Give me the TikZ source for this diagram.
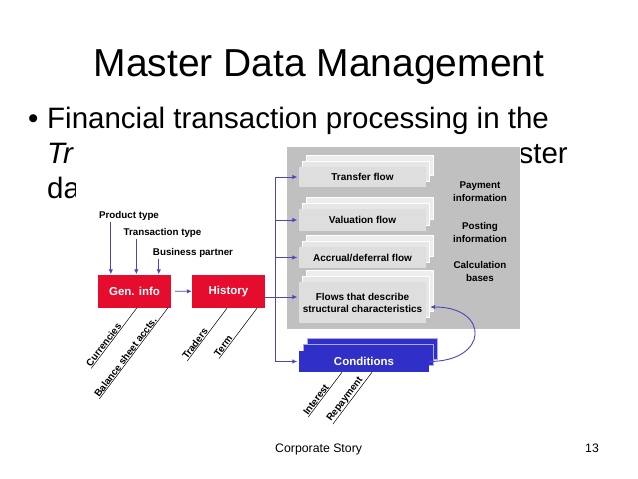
\documentclass[tikz,border=0pt]{standalone}
\usepackage{fontspec}
\setmainfont{Liberation Sans}
\usepackage{xcolor}
\usetikzlibrary{arrows.meta,shadows}

\definecolor{mdmred}{RGB}{230,12,45}
\definecolor{mdmblue}{RGB}{48,48,200}
\definecolor{mdmlink}{RGB}{72,72,185}
\definecolor{mdmpanel}{RGB}{192,192,192}
\definecolor{mdmflow}{RGB}{222,222,222}

\begin{document}
\begin{tikzpicture}[x=1pt,y=-1pt,>={Latex[length=5pt,width=4.5pt]},
 redbox/.style={fill=mdmred,text=white,font=\fontsize{11.5}{13}\selectfont\bfseries,
   minimum width=73pt,minimum height=33pt,inner sep=0pt},
 flowbox/.style={fill=mdmflow,font=\fontsize{10}{12}\selectfont\bfseries,align=center,
   minimum width=127pt,inner sep=0pt,
   copy shadow={shadow xshift=7pt,shadow yshift=12pt,fill=mdmflow!55!white,draw=white,line width=.3pt},
   copy shadow={shadow xshift=3.5pt,shadow yshift=6pt,fill=mdmflow!75!white,draw=white,line width=.3pt}},
 condbox/.style={fill=mdmblue,text=white,font=\fontsize{11.5}{13}\selectfont\bfseries,
   minimum width=130pt,minimum height=21pt,inner sep=0pt,
   copy shadow={shadow xshift=8pt,shadow yshift=13pt,fill=mdmblue,draw=mdmblue!40!white,line width=.3pt},
   copy shadow={shadow xshift=4pt,shadow yshift=6.5pt,fill=mdmblue,draw=mdmblue!40!white,line width=.3pt}},
 lab/.style={font=\fontsize{9.8}{12}\selectfont\bfseries,inner sep=1pt},
 info/.style={font=\fontsize{9.8}{12.5}\selectfont\bfseries,align=center,inner sep=1pt},
 tilt/.style={font=\fontsize{9.8}{12}\selectfont\bfseries,rotate=53,anchor=south west,inner sep=.5pt},
 link/.style={draw=mdmlink,line width=.9pt},
 tick/.style={draw=black,line width=.5pt},
 slide/.style={font=\fontsize{29.5}{35}\selectfont,anchor=base west,inner sep=0pt}]
\useasboundingbox (0,0) rectangle (638,479);
\fill[white] (0,0) rectangle (638,479);

% slide title and bullet
\node[font=\fontsize{39}{47}\selectfont,anchor=base,inner sep=0pt] (title) at (319,76) {Master Data Management};
\node[slide] (bullet) at (28,128) {•};
\node[slide] (line1) at (47,128) {Financial transaction processing in the};
\node[slide,font=\fontsize{29.5}{35}\selectfont\itshape] (line2) at (47,163) {Tr};
\node[slide,anchor=base east] (line2b) at (568,163) {ster};
\node[slide] (line3) at (47,198) {da};

% picture pasted over the text
\fill[white] (76,145) rectangle (521,420);
\node[fill=mdmpanel,minimum width=233pt,minimum height=182pt,inner sep=0pt] (panel) at (403.5,238) {};

% flows in the panel
\node[flowbox,minimum height=20pt] (transfer) at (362.5,177) {Transfer flow};
\node[flowbox,minimum height=22pt] (valuation) at (362.5,220) {Valuation flow};
\node[flowbox,minimum height=21pt] (accrual) at (362.5,257.5) {Accrual/deferral flow};
\node[flowbox,minimum height=41pt] (flows) at (362.5,302.5) {Flows that describe\\structural characteristics};
\node[info] (pay) at (480,191.5) {Payment\\information};
\node[info] (post) at (480,232.5) {Posting\\information};
\node[info] (calc) at (480,271.5) {Calculation\\bases};

% master data objects
\node[redbox] (geninfo) at (134.5,291) {Gen. info};
\node[redbox] (history) at (228.5,291.5) {History};
\node[condbox] (conditions) at (364,361.5) {Conditions};

\node[lab] (ptype) at (129,216) {Product type};
\node[lab] (ttype) at (162.5,233) {Transaction type};
\node[lab] (bpart) at (193,253) {Business partner};

\draw[link,->] ([xshift=13pt]ptype.south west) -- ([xshift=13pt]ptype.south west |- geninfo.north);
\draw[link,->] ([xshift=14pt]ttype.south west) -- ([xshift=14pt]ttype.south west |- geninfo.north);
\draw[link,->] ([xshift=7pt]bpart.south west) -- ([xshift=7pt]bpart.south west |- geninfo.north);
\draw[link,->,shorten <=4pt] (geninfo) -- (history);

% links into the flows
\coordinate (trunk) at (275,0);
\draw[link] (transfer.west -| trunk) -- (conditions.west -| trunk);
\foreach \b in {transfer,valuation,accrual,conditions}
  \draw[link,->,shorten >=1.5pt] (\b.west -| trunk) -- (\b.west);
\draw[link,->,shorten >=1.5pt] ([yshift=-5.5pt]history.east) -- ([yshift=-5.5pt]history.east -| flows.west);
\draw[link,->] (conditions.east) to[out=0,in=0,looseness=2.8] ([xshift=4pt,yshift=-4.5pt]flows.east);

% attributes
\draw[tick] ([xshift=2.5pt]geninfo.south) -- ++(-45.8,60.7) node[tilt] (cur) {Currencies};
\draw[tick] ([xshift=33.5pt]geninfo.south) -- ++(-68.6,91.1) node[tilt] (bal) {Balance sheet accts.};
\draw[tick] ([xshift=-1.5pt]history.south) -- ++(-39.7,52.7) node[tilt] (trd) {Traders};
\draw[tick] ([xshift=28.5pt]history.south) -- ++(-37.9,50.3) node[tilt] (trm) {Term};
\draw[tick] ([xshift=-22pt]conditions.south) -- ++(-33.7,44.7) node[tilt] (int) {Interest};
\draw[tick] ([xshift=8pt]conditions.south) -- ++(-39.1,51.9) node[tilt] (rep) {Repayment};

% footer
\node[font=\fontsize{12.3}{14}\selectfont,anchor=base west,inner sep=0pt] (footer) at (275,452) {Corporate Story};
\node[font=\fontsize{12.3}{14}\selectfont,anchor=base,inner sep=0pt] (pageno) at (592,452) {13};
\end{tikzpicture}
\end{document}
